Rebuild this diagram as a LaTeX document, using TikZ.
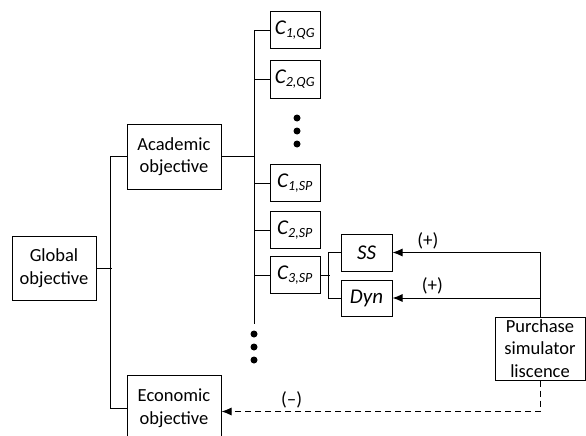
\documentclass[tikz,border=0pt]{standalone}
\usepackage{fontspec}
\setmainfont{Carlito}
\usetikzlibrary{arrows.meta}
\tikzset{
  objbox/.style={draw, line width=1pt, align=center, inner sep=0pt, font=\fontsize{18.5}{22.5}\selectfont},
  critbox/.style={draw, line width=1pt, inner sep=0pt, minimum width=50pt, minimum height=37pt, font=\fontsize{21}{22}\selectfont\itshape},
  tree/.style={line width=1pt},
  sign/.style={font=\fontsize{19}{20}\selectfont},
  blob/.style={fill=black, circle, inner sep=0pt, minimum size=7pt}
}
\newcommand{\crit}[2]{C\textsubscript{\fontsize{14}{14}\selectfont #1,#2}}
\begin{document}
\begin{tikzpicture}[x=1pt, y=-1pt]
		%%%%% START %%%%%
		\useasboundingbox (0, 0) rectangle (586, 436);
		
		% objectives
		\node[objbox, minimum width=84pt, minimum height=64pt] (global) at (54, 268) {Global\\objective};
		\node[objbox, minimum width=94pt, minimum height=65pt] (academic) at (174, 156.5) {Academic\\objective};
		\node[objbox, minimum width=94pt, minimum height=66pt] (economic) at (174, 408) {Economic\\objective};
		
		% criteria
		\node[critbox] (c1qg) at (295, 30.5) {\crit{1}{QG}};
		\node[critbox] (c2qg) at (295, 79.5) {\crit{2}{QG}};
		\node[critbox] (c1sp) at (295, 183) {\crit{1}{SP}};
		\node[critbox] (c2sp) at (295, 230) {\crit{2}{SP}};
		\node[critbox] (c3sp) at (295, 275) {\crit{3}{SP}};
		
		\node[critbox, minimum width=51pt] (ss) at (366.5, 252.5) {SS};
		\node[critbox, minimum width=51pt, minimum height=36pt] (dyn) at (366.5, 298) {Dyn};
		
		\node[objbox, minimum width=90pt, minimum height=63pt] (purchase) at (540, 348.5) {Purchase\\simulator\\liscence};
		
		% dots
		\foreach \y in {118, 131, 144} \node[blob] at (297, \y) {};
		\foreach \y in {334, 347, 360} \node[blob] at (254, \y) {};
		
		% tree
		\draw[tree] (global.east) -- ++(15, 0);
		\draw[tree] (academic.west) -- ++(-16, 0) |- (economic.west);
		\coordinate (cbot) at (254, 324);
		\draw[tree] (c1qg.west) -| (cbot);
		\draw[tree] (academic.east) -- (academic.east -| cbot);
		\foreach \c in {c2qg, c1sp, c2sp, c3sp} \draw[tree] (\c.west) -- (\c.west -| cbot);
		\draw[tree] (c3sp.east) -- ++(9, 0);
		\draw[tree] (ss.west) -- ++(-12, 0) |- (dyn.west);
		
		% simulator licence
		\draw[tree, -{Latex[length=10pt, width=8pt]}] (purchase.north) |- (ss.east) node[sign, pos=0.88, above] {(+)};
		\draw[tree, -{Latex[length=10pt, width=8pt]}] (purchase.north |- dyn.east) -- (dyn.east) node[sign, pos=0.73, above] {(+)};
		\draw[tree, dashed, dash pattern=on 6pt off 4pt, -{Latex[length=10pt, width=8pt]}] (purchase.south) -- ++(0, 31) coordinate (dturn) -- (dturn -| economic.east) node[sign, pos=0.78, above] {(--)};
		
		%%%%% END %%%%%
	\end{tikzpicture}
\end{document}
